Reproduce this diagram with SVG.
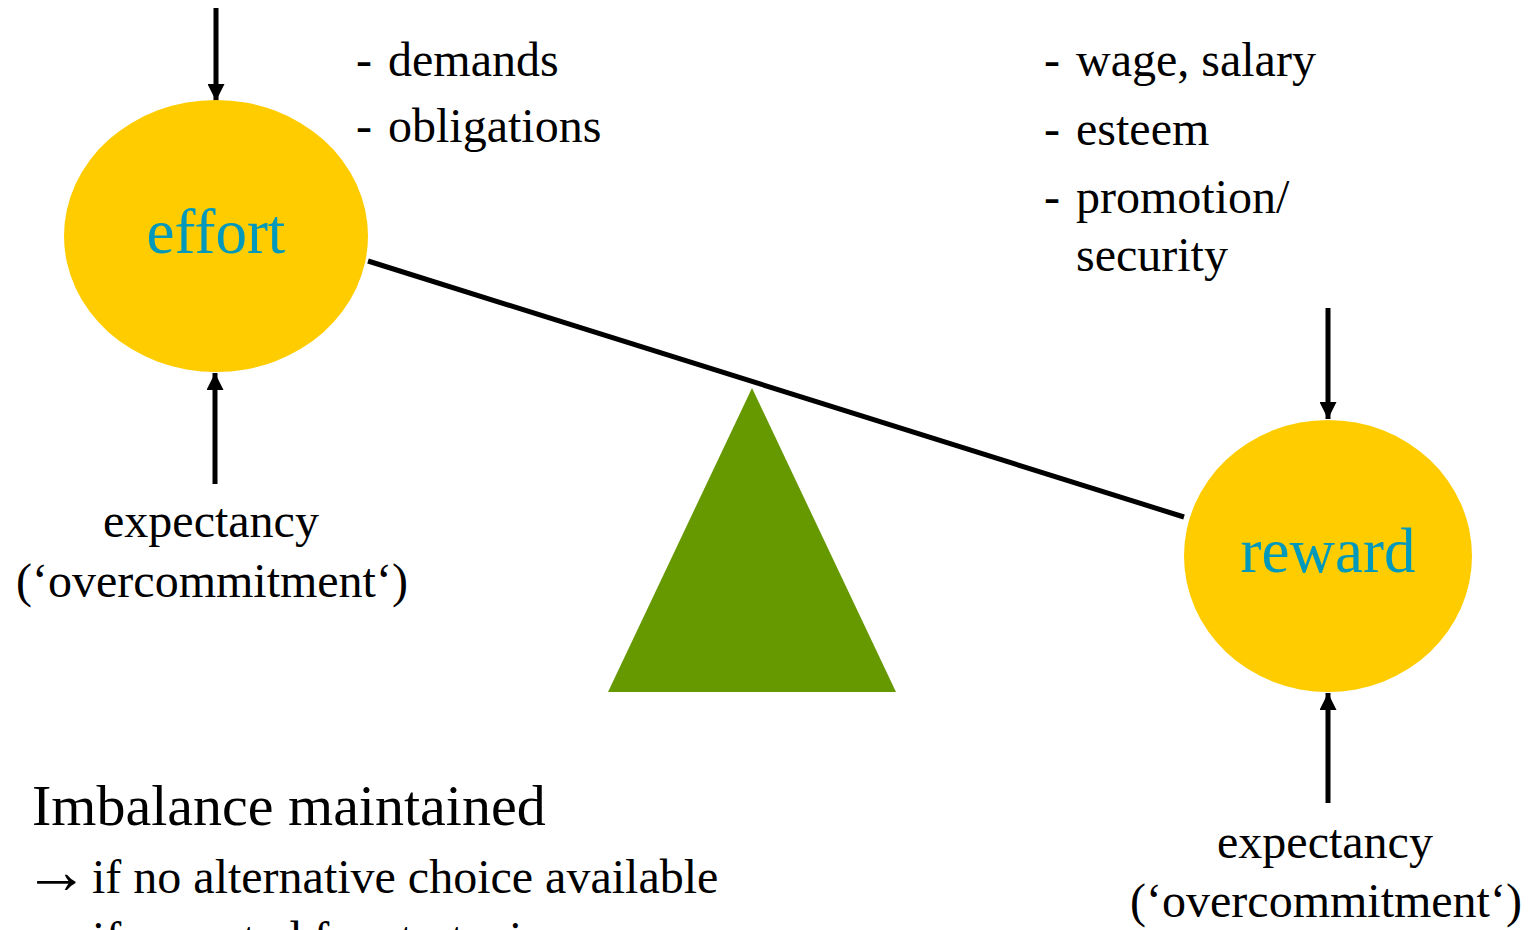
<svg xmlns="http://www.w3.org/2000/svg" width="1529" height="930" viewBox="0 0 1529 930">
  <style>
    .node { fill: #FFCC00; }
    .label { font-family: "Liberation Serif", "Times New Roman", serif; fill: #0099BB; font-size: 63px; text-anchor: middle; }
    .txt { font-family: "Liberation Serif", "Times New Roman", serif; fill: #000000; font-size: 48px; }
    .mid { text-anchor: middle; }
    .title { font-size: 58px; }
    .sym { font-size: 65px; }
    .arrow { stroke: #000000; stroke-width: 5; fill: none; marker-end: url(#head); }
    .beam { stroke: #000000; stroke-width: 5; fill: none; }
  </style>
  <defs>
    <marker id="head" viewBox="0 0 10 10" refX="10" refY="5" markerWidth="4" markerHeight="3.4" orient="auto" markerUnits="strokeWidth">
      <path d="M0,0 L10,5 L0,10 Z" fill="#000000"/>
    </marker>
  </defs>

  <rect width="1529" height="930" fill="#FFFFFF"/>

  <!-- fulcrum -->
  <g id="fulcrum">
    <polygon points="752,388 896,692 608,692" fill="#669900"/>
  </g>

  <!-- beam and arrows -->
  <g id="connectors">
    <line class="beam" x1="368" y1="261" x2="1184" y2="517"/>
    <line class="arrow" x1="216" y1="8" x2="216" y2="101"/>
    <line class="arrow" x1="215" y1="484" x2="215" y2="373"/>
    <line class="arrow" x1="1328" y1="308" x2="1328" y2="419"/>
    <line class="arrow" x1="1328" y1="803" x2="1328" y2="693"/>
  </g>

  <g id="effort">
    <ellipse class="node" cx="216" cy="236" rx="152" ry="136"/>
    <text class="label" x="216" y="253">effort</text>
  </g>

  <g id="reward">
    <ellipse class="node" cx="1328" cy="556" rx="144" ry="136"/>
    <text class="label" x="1328" y="572">reward</text>
  </g>

  <g id="effort-items">
    <text class="txt" x="356" y="76">-<tspan x="388">demands</tspan></text>
    <text class="txt" x="356" y="142">-<tspan x="388">obligations</tspan></text>
  </g>

  <g id="reward-items">
    <text class="txt" x="1044" y="76">-<tspan x="1076">wage, salary</tspan></text>
    <text class="txt" x="1044" y="145">-<tspan x="1076">esteem</tspan></text>
    <text class="txt" x="1044" y="213">-<tspan x="1076">promotion/</tspan></text>
    <text class="txt" x="1076" y="271">security</text>
  </g>

  <g id="effort-expectancy">
    <text class="txt mid" x="211" y="537">expectancy</text>
    <text class="txt mid" x="212" y="597">(‘overcommitment‘)</text>
  </g>

  <g id="reward-expectancy">
    <text class="txt mid" x="1325" y="858">expectancy</text>
    <text class="txt mid" x="1326" y="917">(‘overcommitment‘)</text>
  </g>

  <g id="conditions">
    <text class="txt title" x="32" y="825">Imbalance maintained</text>
    <text class="txt" x="24" y="893"><tspan class="sym">→</tspan><tspan x="92">if no alternative choice available</tspan></text>
    <text class="txt" x="24" y="955"><tspan class="sym">→</tspan><tspan x="92">if accepted for strategic reasons</tspan></text>
  </g>
</svg>
